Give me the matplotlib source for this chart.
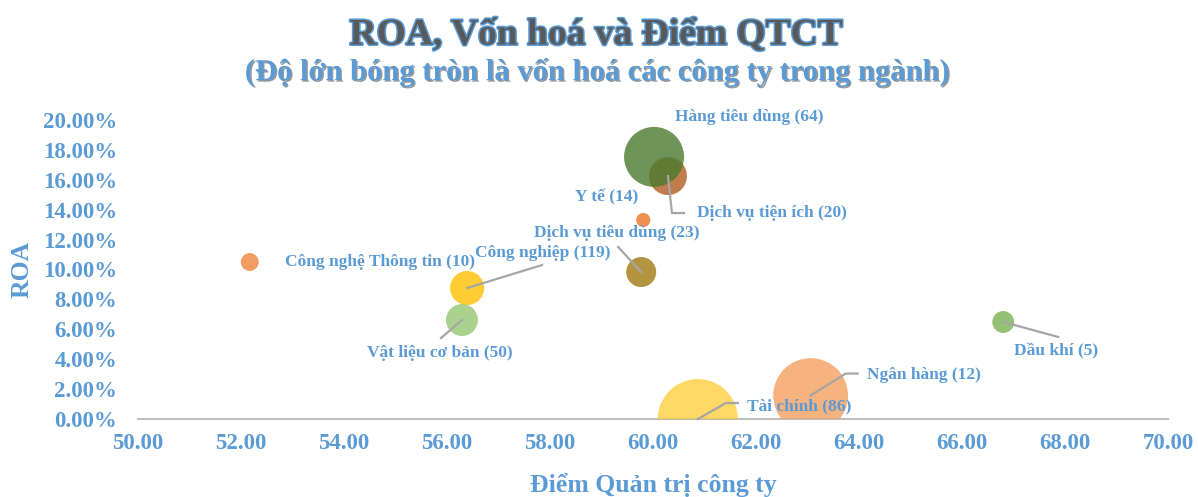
import numpy as np
import matplotlib
matplotlib.use("Agg")
import matplotlib.pyplot as plt
import matplotlib.patheffects as pe
from matplotlib.ticker import PercentFormatter

plt.rcParams["font.family"] = ["Liberation Serif", "DejaVu Serif"]

BLUE = "#5b9bd5"
GRAY = "#a6a6a6"

# sector data
sectors = ["Hàng tiêu dùng", "Dịch vụ tiện ích", "Y tế", "Dịch vụ tiêu dùng",
           "Công nghiệp", "Vật liệu cơ bản", "Công nghệ Thông tin", "Dầu khí",
           "Ngân hàng", "Tài chính"]
n_companies = [64, 20, 14, 23, 119, 50, 10, 5, 12, 86]
governance = [60.02, 60.29, 59.81, 59.77, 56.39, 56.29, 52.17, 66.80, 63.06, 60.87]
roa = [17.53, 16.25, 13.31, 9.83, 8.76, 6.62, 10.50, 6.49, 1.57, 0.00]
market_cap = [900, 360, 50, 225, 290, 255, 80, 120, 1400, 1600]  # relative bubble size

colors = ["#4a7a2e", "#b5652c", "#ed7d31", "#a07a10", "#ffc000",
          "#8fc26a", "#ed7d31", "#70ad47", "#f4a060", "#ffcc33"]
alphas = [0.8, 0.85, 0.85, 0.8, 0.8, 0.75, 0.75, 0.75, 0.8, 0.75]

# label placement: text offset (px, image-down) and leader line vertices (px)
label_off = [(95, -40), (104, 37), (-37, -23), (-24, -39), (76, -35),
             (-22, 33), (130, 0), (53, 29), (113, -21), (101, -13)]
leaders = [None, [(0, 0), (4, 37), (16, 37)], None, [(0, 0), (-23, -25)],
           [(0, 0), (75, -23)], [(0, 0), (-21, 18)], None, [(0, 0), (55, 15)],
           [(0, 0), (35, -22), (47, -22)], [(0, 0), (28, -16), (40, -16)]]

fig = plt.figure(figsize=(11.98, 4.97), dpi=100)
ax = fig.add_axes([0.1152, 0.1569, 0.8598, 0.6017])

sizes = [(1.44 ** 2) * c for c in market_cap]
order = [9, 8, 1, 0, 4, 5, 3, 2, 6, 7]
for i in order:
    ax.scatter(governance[i], roa[i], s=sizes[i], color=colors[i], alpha=alphas[i],
               edgecolors="none", zorder=3)

ax.set_xlim(50, 70)
ax.set_ylim(0, 20)
ax.set_xticks(np.arange(50, 71, 2))
ax.set_yticks(np.arange(0, 21, 2))
ax.xaxis.set_major_formatter(lambda v, p: f"{v:.2f}")
ax.yaxis.set_major_formatter(PercentFormatter(decimals=2))
for s in ["top", "right", "left"]:
    ax.spines[s].set_visible(False)
ax.spines["bottom"].set_color("#bfbfbf")
ax.spines["bottom"].set_linewidth(1.5)
ax.spines["bottom"].set_zorder(2)
ax.tick_params(length=0, labelcolor=BLUE, labelsize=16.5)
ax.tick_params(axis="x", pad=10)
ax.tick_params(axis="y", pad=15)
for lab in ax.get_xticklabels() + ax.get_yticklabels():
    lab.set_fontweight("bold")

ax.set_xlabel("Điểm Quản trị công ty", color=BLUE, fontsize=18.5, fontweight="bold", labelpad=14)
ax.set_ylabel("ROA", color=BLUE, fontsize=18.5, fontweight="bold", labelpad=7)

fig.canvas.draw()
for i in range(len(sectors)):
    px, py = ax.transData.transform((governance[i], roa[i]))
    dx, dy = label_off[i]
    fig.text(px + dx, py - dy, f"{sectors[i]} ({n_companies[i]})",
             transform=None, ha="center", va="center", color=BLUE,
             fontsize=12.5, fontweight="bold", zorder=5)
    if leaders[i]:
        xs = [px + a for a, b in leaders[i]]
        ys = [py - b for a, b in leaders[i]]
        line = plt.Line2D(xs, ys, transform=None, color=GRAY, lw=1.6, zorder=4)
        fig.add_artist(line)

fig.text(0.4975, 1 - 35 / 497, "ROA, Vốn hoá và Điểm QTCT", ha="center", va="center",
         fontsize=27, fontweight="bold", color="#595959",
         path_effects=[pe.withStroke(linewidth=2.2, foreground=BLUE)])
fig.text(0.4985, 1 - 72 / 497, "(Độ lớn bóng tròn là vốn hoá các công ty trong ngành)",
         ha="center", va="center", fontsize=22, fontweight="bold", color=BLUE,
         path_effects=[pe.SimplePatchShadow(offset=(1, -1), shadow_rgbFace="#7f7f7f", alpha=0.8),
                       pe.Normal()])

fig.savefig("out.png", dpi=100)
